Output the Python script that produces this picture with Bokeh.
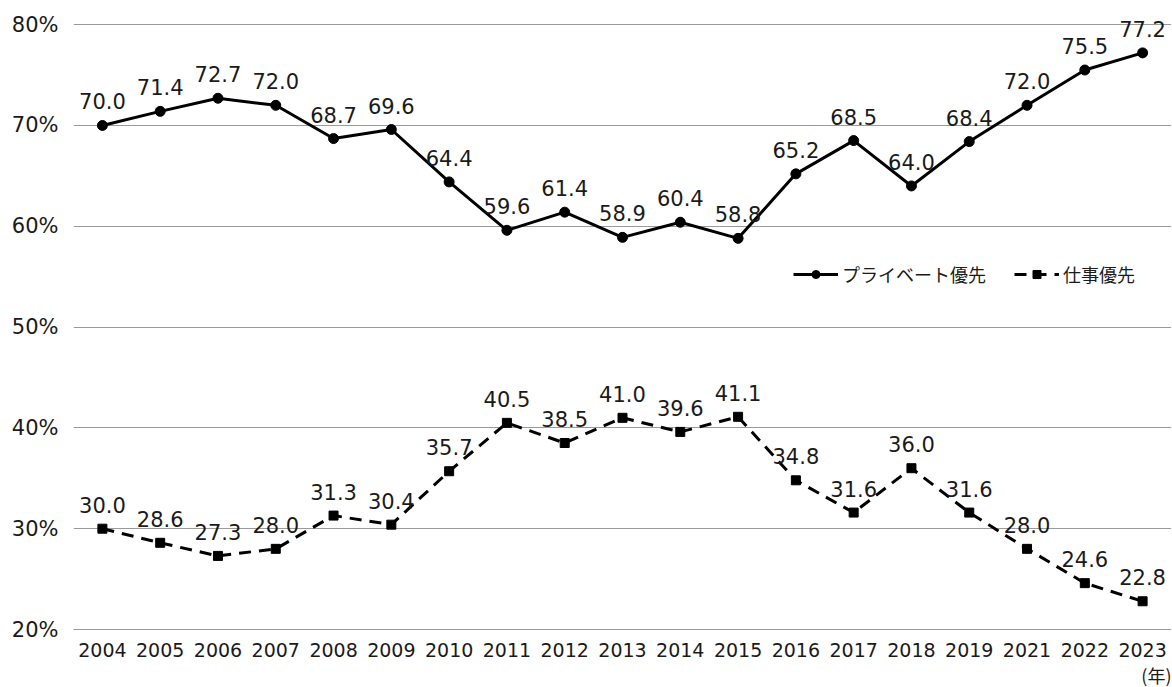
from bokeh.plotting import figure
from bokeh.models import (FactorRange, Range1d, FixedTicker, PrintfTickFormatter, Title, Legend,
                          LegendItem, LabelSet, ColumnDataSource)
from bokeh.core.properties import value
from bokeh.embed import file_html
from bokeh.resources import INLINE

years = ["2004", "2005", "2006", "2007", "2008", "2009", "2010", "2011", "2012", "2013",
         "2014", "2015", "2016", "2017", "2018", "2019", "2021", "2022", "2023"]
private = [70.0, 71.4, 72.7, 72.0, 68.7, 69.6, 64.4, 59.6, 61.4, 58.9,
           60.4, 58.8, 65.2, 68.5, 64.0, 68.4, 72.0, 75.5, 77.2]
work = [30.0, 28.6, 27.3, 28.0, 31.3, 30.4, 35.7, 40.5, 38.5, 41.0,
        39.6, 41.1, 34.8, 31.6, 36.0, 31.6, 28.0, 24.6, 22.8]
y_ticks = [20, 30, 40, 50, 60, 70, 80]
name_private = "プライベート優先"
name_work = "仕事優先"
unit_label = "(年)"

NUM_FONT = "DejaVu Sans"
JP_FONT = "Noto Sans CJK JP"
TXT = "#1a1a1a"

src = ColumnDataSource(dict(
    year=years, private=private, work=work,
    private_txt=[f"{v:.1f}" for v in private],
    work_txt=[f"{v:.1f}" for v in work],
))

p = figure(width=1171, height=687, x_range=FactorRange(*years), y_range=Range1d(20, 82),
           output_backend="svg", toolbar_location=None,
           min_border_left=73, min_border_right=0, min_border_top=4, min_border_bottom=6)
p.outline_line_color = None
p.xgrid.grid_line_color = None
p.ygrid.grid_line_color = "#9a9a9a"
p.ygrid.grid_line_width = 1
p.yaxis.ticker = FixedTicker(ticks=y_ticks)
p.yaxis.formatter = PrintfTickFormatter(format="%d%%")
p.yaxis.axis_line_color = None
p.yaxis.major_tick_line_color = None
p.yaxis.minor_tick_line_color = None
p.yaxis.major_label_standoff = 9
p.yaxis.major_label_text_font = NUM_FONT
p.yaxis.major_label_text_font_size = "21px"
p.yaxis.major_label_text_color = TXT
p.xaxis.axis_line_color = "#9a9a9a"
p.xaxis.major_tick_line_color = None
p.xaxis.minor_tick_line_color = None
p.xaxis.major_label_standoff = 7
p.xaxis.major_label_text_font = NUM_FONT
p.xaxis.major_label_text_font_size = "19px"
p.xaxis.major_label_text_color = TXT

l1 = p.line("year", "private", source=src, line_color="black", line_width=3)
s1 = p.scatter("year", "private", source=src, marker="circle", size=10, color="black")
l2 = p.line("year", "work", source=src, line_color="black", line_width=3, line_dash="12 8")
s2 = p.scatter("year", "work", source=src, marker="square", size=9, color="black")

for col, txt in (("private", "private_txt"), ("work", "work_txt")):
    p.add_layout(LabelSet(x="year", y=col, text=txt, source=src, text_align="center",
                          text_baseline="alphabetic", y_offset=16, text_font=value(NUM_FONT),
                          text_font_size=value("21px"), text_color=TXT))

legend = Legend(items=[LegendItem(label=name_private, renderers=[l1, s1]),
                       LegendItem(label=name_work, renderers=[l2, s2])],
                orientation="horizontal", location=(720, 342),
                background_fill_alpha=0, border_line_color=None,
                padding=0, margin=0, spacing=28, glyph_width=45, glyph_height=20,
                label_standoff=4, label_text_font=JP_FONT, label_text_font_size="18px",
                label_text_color=TXT)
p.add_layout(legend, "center")

p.add_layout(Title(text=unit_label, align="right", text_font=JP_FONT, text_font_size="18px",
                   text_font_style="normal", text_color=TXT, standoff=0), "below")

open("out.html", "w").write(file_html(p, INLINE))
